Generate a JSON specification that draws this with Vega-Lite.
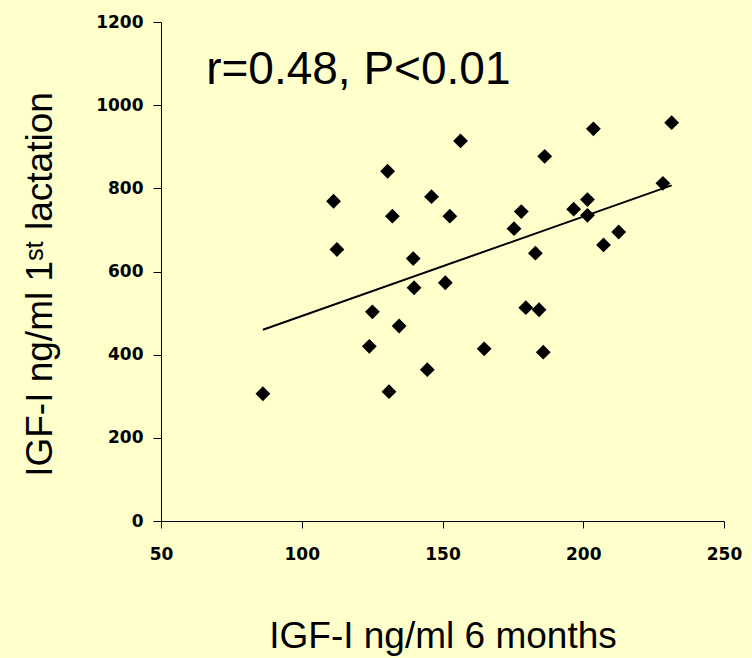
{
  "$schema": "https://vega.github.io/schema/vega-lite/v6.json",
  "width": 563,
  "height": 499,
  "autosize": "none",
  "padding": {"left": 161, "top": 22, "right": 28, "bottom": 137},
  "background": "#FFFFCC",
  "config": {"view": {"stroke": null}, "font": "Liberation Sans"},
  "datasets": {
    "pts": [
      {"x": 86.2, "y": 306}, {"x": 111.3, "y": 769}, {"x": 112.5, "y": 653}, {"x": 125.1, "y": 503},
      {"x": 124.0, "y": 420}, {"x": 130.5, "y": 841}, {"x": 132.2, "y": 733}, {"x": 131.0, "y": 311},
      {"x": 134.6, "y": 469}, {"x": 139.6, "y": 631}, {"x": 139.9, "y": 561}, {"x": 144.6, "y": 364},
      {"x": 146.1, "y": 780}, {"x": 152.6, "y": 733}, {"x": 151.0, "y": 573}, {"x": 156.4, "y": 914},
      {"x": 164.8, "y": 414}, {"x": 175.4, "y": 703}, {"x": 178.0, "y": 744}, {"x": 179.6, "y": 513},
      {"x": 184.3, "y": 508}, {"x": 183.0, "y": 644}, {"x": 185.8, "y": 406}, {"x": 186.3, "y": 877},
      {"x": 196.6, "y": 750}, {"x": 201.5, "y": 773}, {"x": 201.5, "y": 735}, {"x": 203.6, "y": 943},
      {"x": 207.2, "y": 664}, {"x": 212.6, "y": 695}, {"x": 228.3, "y": 812}, {"x": 231.4, "y": 958}
    ],
    "fit": [{"x": 86.2, "y": 460}, {"x": 231.4, "y": 807}],
    "note": [{"x": 120.1, "y": 1050, "label": "r=0.48, P<0.01"}]
  },
  "layer": [
    {
      "data": {"name": "fit"},
      "mark": {"type": "line", "color": "#000000", "strokeWidth": 2},
      "encoding": {
        "x": {"field": "x", "type": "quantitative"},
        "y": {"field": "y", "type": "quantitative"}
      }
    },
    {
      "data": {"name": "pts"},
      "mark": {"type": "point", "shape": "diamond", "filled": true, "color": "#000000", "opacity": 1, "size": 220},
      "encoding": {
        "x": {
          "field": "x", "type": "quantitative",
          "scale": {"domain": [50, 250], "nice": false, "zero": false},
          "axis": {
            "title": "IGF-I ng/ml 6 months", "values": [50, 100, 150, 200, 250], "grid": false, "format": "d",
            "labelFlush": false,
            "domainColor": "#000000", "tickColor": "#000000", "tickSize": 7, "labelPadding": 18,
            "labelFont": "DejaVu Sans", "labelFontWeight": "bold", "labelFontSize": 17, "labelColor": "#000000",
            "titleFont": "Liberation Sans", "titleFontWeight": "normal", "titleFontSize": 37, "titleColor": "#000000",
            "titlePadding": 56
          }
        },
        "y": {
          "field": "y", "type": "quantitative",
          "scale": {"domain": [0, 1200], "nice": false},
          "axis": {
            "title": "IGF-I ng/ml 1ˢᵗ lactation", "values": [0, 200, 400, 600, 800, 1000, 1200], "grid": false, "format": "d",
            "labelFlush": false,
            "domainColor": "#000000", "tickColor": "#000000", "tickSize": 8, "labelPadding": 10,
            "labelFont": "DejaVu Sans", "labelFontWeight": "bold", "labelFontSize": 17, "labelColor": "#000000",
            "titleFont": "Liberation Sans", "titleFontWeight": "normal", "titleFontSize": 37, "titleColor": "#000000",
            "titlePadding": 36, "titleY": 262
          }
        }
      }
    },
    {
      "data": {"name": "note"},
      "mark": {"type": "text", "font": "Liberation Sans", "fontSize": 46, "color": "#000000", "align": "center", "baseline": "alphabetic"},
      "encoding": {
        "x": {"field": "x", "type": "quantitative"},
        "y": {"field": "y", "type": "quantitative"},
        "text": {"field": "label"}
      }
    }
  ]
}
